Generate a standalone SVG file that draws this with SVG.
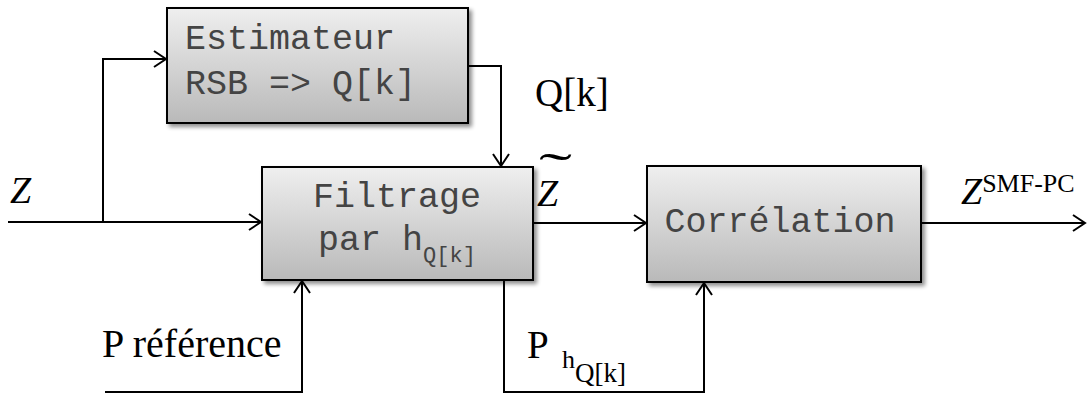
<svg xmlns="http://www.w3.org/2000/svg" width="1089" height="394" viewBox="0 0 1089 394">
<style>
.box{stroke:#000;stroke-width:2;fill:url(#g);filter:url(#sh)}
.mono{font-family:"Liberation Mono","Courier New",monospace;fill:#444;font-size:35px}
.ser{font-family:"Liberation Serif","Times New Roman",serif;fill:#000}
.ln{fill:none;stroke:#000;stroke-width:2}
</style>
<defs>
<linearGradient id="g" x1="0" y1="0" x2="0" y2="1">
<stop offset="0" stop-color="#efefef"/>
<stop offset="1" stop-color="#b9b9b9"/>
</linearGradient>
<filter id="sh" x="-10%" y="-10%" width="130%" height="130%">
<feGaussianBlur in="SourceAlpha" stdDeviation="2"/>
<feOffset dx="3" dy="3" result="b"/>
<feComponentTransfer><feFuncA type="linear" slope="0.45"/></feComponentTransfer>
<feMerge><feMergeNode/><feMergeNode in="SourceGraphic"/></feMerge>
</filter>
<marker id="a" markerWidth="16" markerHeight="18" refX="14" refY="9" orient="auto" markerUnits="userSpaceOnUse">
<path d="M2,1 L14,9 L2,17" fill="none" stroke="#000" stroke-width="2"/>
</marker>
</defs>
<g id="connectors">
<path class="ln" d="M8,222 H261" marker-end="url(#a)"/>
<path class="ln" d="M103,222 V59 H166" marker-end="url(#a)"/>
<path class="ln" d="M468,66 H501 V166" marker-end="url(#a)"/>
<path class="ln" d="M533,223 H646" marker-end="url(#a)"/>
<path class="ln" d="M921,223 H1085" marker-end="url(#a)"/>
<path class="ln" d="M105,392 H302 V281" marker-end="url(#a)"/>
<path class="ln" d="M504,280 V392 H704 V283" marker-end="url(#a)"/>
</g>
<g id="estimateur">
<rect class="box" x="167" y="8" width="301" height="115"/>
<text class="mono" x="185" y="49">Estimateur</text>
<text class="mono" x="185" y="94">RSB =&gt; Q[k]</text>
</g>
<g id="filtrage">
<rect class="box" x="262" y="167" width="271" height="113"/>
<text class="mono" x="397" y="207" text-anchor="middle">Filtrage</text>
<text class="mono" x="318" y="250">par h<tspan font-size="22" dy="12">Q[k]</tspan></text>
</g>
<g id="correlation">
<rect class="box" x="647" y="166" width="274" height="116"/>
<text class="mono" x="780" y="232" text-anchor="middle">Corrélation</text>
</g>
<g id="labels">
<text class="ser" x="10" y="203" font-size="38" font-style="italic">Z</text>
<text class="ser" x="535" y="106" font-size="39">Q[k]</text>
<text class="ser" font-size="38" font-style="italic"><tspan x="537" y="206">Z</tspan><tspan x="539" y="188" font-size="50" font-style="normal" textLength="33" lengthAdjust="spacingAndGlyphs">˜</tspan></text>
<text class="ser" x="961" y="204" font-size="38" font-style="italic">Z<tspan font-style="normal" font-size="26" dy="-12">SMF-PC</tspan></text>
<text class="ser" x="102" y="357" font-size="40">P référence</text>
<text class="ser" x="527" y="358" font-size="39">P</text>
<text class="ser" x="562" y="368" font-size="26">h<tspan font-size="27" dy="14">Q[k]</tspan></text>
</g>
</svg>
